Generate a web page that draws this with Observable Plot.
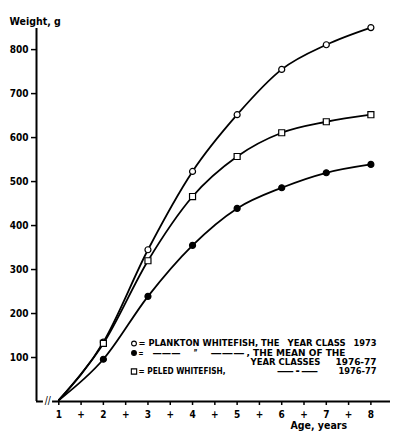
<!DOCTYPE html>
<html>
<head>
<meta charset="utf-8">
<script src="https://cdn.jsdelivr.net/npm/d3@7"></script>
<script src="https://cdn.jsdelivr.net/npm/@observablehq/plot@0.6"></script>
<style>
  html, body { margin: 0; padding: 0; background: #fff; }
  #chart svg { display: block; }
</style>
</head>
<body>
<div id="chart"></div>
<script>
// ---- data ----
const ages = [1, 2, 3, 4, 5, 6, 7, 8];
const plankton1973 = [3, 135, 345, 523, 652, 755, 811, 850];
const planktonMean = [3, 96, 239, 355, 439, 486, 520, 539];
const peled = [3, 132, 320, 466, 557, 611, 636, 652];
const yTicks = [100, 200, 300, 400, 500, 600, 700, 800];
const xTicks = [1, 1.5, 2, 2.5, 3, 3.5, 4, 4.5, 5, 5.5, 6, 6.5, 7, 7.5, 8];
const yLabel = "Weight, g";
const xLabel = "Age, years";

const seriesDefs = [
  {name: "plankton1973", values: plankton1973, symbol: "circle", fill: "white"},
  {name: "planktonMean", values: planktonMean, symbol: "circle", fill: "black"},
  {name: "peled", values: peled, symbol: "square", fill: "white"}
];
const rows = seriesDefs.flatMap(s => ages.map((a, i) => ({series: s.name, age: a, w: s.values[i]})));

// legend content
const legendTexts = [
  {t: "= PLANKTON WHITEFISH, THE", x0: 138, x1: 279, row: 0},
  {t: "YEAR CLASS", x0: 287, x1: 345, row: 0},
  {t: "1973", x0: 353, x1: 376, row: 0},
  {t: "=", x0: 138, x1: 143, row: 1},
  {t: "———", x0: 152, x1: 180, row: 1},
  {t: "\u201D", x0: 193, x1: 197, row: 1},
  {t: "———", x0: 210, x1: 244, row: 1},
  {t: ", THE MEAN OF THE", x0: 246, x1: 345, row: 1},
  {t: "YEAR CLASSES", x0: 250, x1: 320, row: 2},
  {t: "1976-77", x0: 335, x1: 376, row: 2},
  {t: "= PELED WHITEFISH,", x0: 138, x1: 225, row: 3},
  {t: "—·—", x0: 276, x1: 318, row: 3},
  {t: "1976-77", x0: 338, x1: 376, row: 3}
];
const legendSymbols = [
  {symbol: "circle", fill: "white", row: 0},
  {symbol: "circle", fill: "black", row: 1},
  {symbol: "square", fill: "white", row: 3}
];

// ---- layout ----
const W = 400, H = 439;
const ml = 36, mr = 10, mt = 28, mb = 38;
const rowY = [343, 352.5, 361.5, 371];
const font = "'DejaVu Sans Condensed', 'Liberation Sans', sans-serif";

const marks = [];
// axis lines
marks.push(Plot.ruleX([0.5], {y1: 0, y2: 848, stroke: "black", strokeWidth: 2}));
marks.push(Plot.ruleY([0], {x1: 0.5, x2: 0.655, stroke: "black", strokeWidth: 2}));
marks.push(Plot.ruleY([0], {x1: 0.86, x2: 8.44, stroke: "black", strokeWidth: 2}));
marks.push(Plot.text(["//"], {x: 0.755, y: 0, text: d => d, fontSize: 10, fontWeight: "normal", dy: -1}));
// axes
marks.push(Plot.axisY(yTicks, {tickSize: 5, tickPadding: 3, strokeWidth: 1.5, fontSize: 10, fontWeight: "bold", label: null}));
marks.push(Plot.axisX(xTicks, {tickSize: 4, tickPadding: 5, strokeWidth: 1.5, fontSize: 10, fontWeight: "bold", label: null,
  tickFormat: d => Number.isInteger(d) ? String(d) : "+"}));
// axis titles
marks.push(Plot.text([yLabel], {frameAnchor: "top-left", dx: 9 - ml, dy: 17 - mt, textAnchor: "start", fontSize: 10.5, fontWeight: "bold"}));
marks.push(Plot.text([xLabel], {frameAnchor: "bottom-left", dx: 290 - ml, dy: 428 - (H - mb), textAnchor: "start", fontSize: 10.5, fontWeight: "bold"}));
// lines
for (const s of seriesDefs) {
  marks.push(Plot.line(rows.filter(d => d.series === s.name), {x: "age", y: "w", curve: "monotone-x", stroke: "black", strokeWidth: 1.8}));
}
for (const s of seriesDefs) {
  marks.push(Plot.dot(rows.filter(d => d.series === s.name && d.age > 1), {x: "age", y: "w", symbol: () => s.symbol, r: s.symbol === "square" ? 3.4 : 3, fill: s.fill, stroke: "black", strokeWidth: 1.2}));
}
// legend
for (const s of legendSymbols) {
  marks.push(Plot.dot([0], {frameAnchor: "top-left", dx: 133.5 - ml, dy: rowY[s.row] - mt, symbol: () => s.symbol, r: s.symbol === "square" ? 3 : 2.4, fill: s.fill, stroke: "black", strokeWidth: 1.1}));
}
for (const t of legendTexts) {
  marks.push(Plot.text([t.t], {frameAnchor: "top-left", dx: t.x0 - ml, dy: rowY[t.row] - mt, textAnchor: "start", lineAnchor: "middle", fontSize: 9, fontWeight: "bold", ariaDescription: "legend"}));
}

const chart = Plot.plot({
  width: W, height: H,
  marginLeft: ml, marginRight: mr, marginTop: mt, marginBottom: mb,
  x: {domain: [0.5, 8.44]},
  y: {domain: [0, 848]},
  style: {fontFamily: font, background: "white", color: "black"},
  marks
});

// stretch legend texts to their measured widths
const legendNodes = chart.querySelectorAll('g[aria-description="legend"] text');
legendNodes.forEach((node, i) => {
  const t = legendTexts[i];
  if (!t) return;
  node.setAttribute("textLength", t.x1 - t.x0);
  node.setAttribute("lengthAdjust", "spacingAndGlyphs");
});

document.getElementById("chart").appendChild(chart);
</script>
</body>
</html>
